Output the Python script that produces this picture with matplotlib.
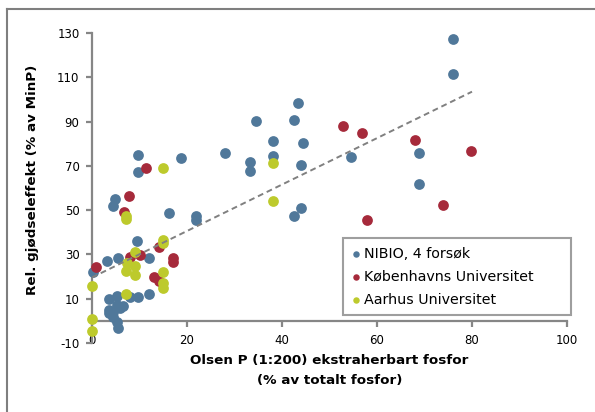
import matplotlib
matplotlib.use("Agg")
import matplotlib.pyplot as plt
from matplotlib.lines import Line2D

# ---- data ----
nibio_x = [76.1, 76.1, 43.4, 42.5, 34.5, 38.2, 44.4, 38.2, 44.1, 54.5, 68.8, 68.8, 42.5, 44.1,
           33.3, 33.3, 28.0, 18.8, 9.7, 9.7, 4.8, 4.4, 16.3, 21.8, 21.8, 9.5, 3.2, 5.4, 11.9, 0.3,
           3.6, 5.3, 8.0, 9.7, 11.9, 3.6, 3.6, 4.5, 5.9, 6.6, 5.3, 4.5, 5.2, 5.5]
nibio_y = [127.4, 111.3, 98.5, 90.9, 90.4, 81.4, 80.5, 74.4, 70.3, 74.2, 75.9, 62.0, 47.2, 51.1,
           71.9, 67.7, 75.7, 73.4, 74.7, 67.4, 55.2, 51.9, 48.9, 47.5, 45.6, 35.9, 27.1, 28.4, 28.2, 21.9,
           10.0, 11.3, 10.7, 10.7, 12.1, 5.0, 3.5, 4.2, 5.7, 6.5, 7.2, 1.9, -0.3, -3.3]

ku_x = [52.9, 56.9, 67.9, 79.8, 73.8, 57.8, 11.4, 7.8, 6.7, 14.0, 8.0, 10.1, 17.0, 17.0, 0.8, 13.1, 14.2]
ku_y = [87.8, 84.9, 81.9, 76.6, 52.5, 45.5, 69.2, 56.2, 49.3, 33.2, 28.8, 29.7, 28.4, 26.6, 24.1, 19.8, 18.2]

au_x = [38.0, 38.0, 15.0, 7.1, 7.1, 15.0, 15.0, 9.1, 7.3, 9.1, 7.1, 9.1, 15.0, 15.0, 15.0, 0.1, 7.1, 0.0, 0.0]
au_y = [71.4, 54.2, 69.2, 47.5, 46.1, 36.7, 35.0, 31.2, 26.1, 24.9, 22.3, 20.8, 22.2, 17.1, 14.8, 15.8, 12.1, 0.8, -4.8]

trend_x = [0, 80]
trend_y = [19.6, 103.5]

series_labels = ["NIBIO, 4 forsøk", "Københavns Universitet", "Aarhus Universitet"]
x_ticks = [0, 20, 40, 60, 80, 100]
y_ticks = [-10, 10, 30, 50, 70, 90, 110, 130]
x_title = "Olsen P (1:200) ekstraherbart fosfor\n(% av totalt fosfor)"
y_title = "Rel. gjødseleffekt (% av MinP)"

# ---- style ----
c_blue = "#50789A"
c_red = "#A62A3B"
c_green = "#BDCA2C"
c_axis = "#868686"

plt.rcParams['font.family'] = ['DejaVu Sans']

W, H = 595, 412
fig = plt.figure(figsize=(W / 100, H / 100), dpi=100)
ax = fig.add_axes([92 / W, (H - 343) / H, (567 - 92) / W, (343 - 33) / H])

ms = 60
ax.scatter(nibio_x, nibio_y, s=ms, color=c_blue, label=series_labels[0], zorder=3, clip_on=False, linewidths=0)
ax.scatter(ku_x, ku_y, s=ms, color=c_red, label=series_labels[1], zorder=4, clip_on=False, linewidths=0)
ax.scatter(au_x, au_y, s=ms, color=c_green, label=series_labels[2], zorder=5, clip_on=False, linewidths=0)
ax.plot(trend_x, trend_y, color="#808080", lw=1.4, linestyle=(0, (3, 2)), zorder=6)

ax.set_xlim(0, 100)
ax.set_ylim(-10, 130)
ax.set_xticks(x_ticks)
ax.set_yticks(y_ticks)
ax.set_xticklabels([str(v) for v in x_ticks])
ax.set_yticklabels([str(v) for v in y_ticks])

for s in ['top', 'right']:
    ax.spines[s].set_visible(False)
ax.spines['bottom'].set_position(('data', 0))
for s in ['left', 'bottom']:
    ax.spines[s].set_color(c_axis)
    ax.spines[s].set_linewidth(1.6)
ax.tick_params(axis='both', colors=c_axis, width=1.6, length=4, labelsize=8.5, labelcolor='black')
ax.tick_params(axis='y', pad=5)
ax.tick_params(axis='x', pad=5.5)

ax.set_xlabel(x_title, fontsize=9.7, fontweight='bold', linespacing=1.75)
ax.set_ylabel(y_title, fontsize=9.7, fontweight='bold')
ax.xaxis.set_label_coords(0.5, -0.035, transform=ax.transAxes)
ax.xaxis.label.set_va('top')
ax.yaxis.set_label_coords(-0.111, 0.526, transform=ax.transAxes)

leg = ax.legend(loc='lower left', bbox_to_anchor=(0.528, 0.09, 0.48, 0.25), mode='expand',
                frameon=True, fancybox=False, fontsize=10.3, markerscale=0.6,
                handlelength=0.6, handletextpad=0.25, labelspacing=0.62, borderpad=0.6,
                borderaxespad=0)
leg.get_frame().set_edgecolor(c_axis)
leg.get_frame().set_linewidth(1.5)

# figure border (top and left visible)
fig.add_artist(Line2D([7 / W, 1], [1 - 9 / H, 1 - 9 / H], color="#7f7f7f", lw=1.5, transform=fig.transFigure))
fig.add_artist(Line2D([7 / W, 7 / W], [0, 1 - 9 / H], color="#7f7f7f", lw=1.5, transform=fig.transFigure))

fig.savefig("out.png", dpi=100)
